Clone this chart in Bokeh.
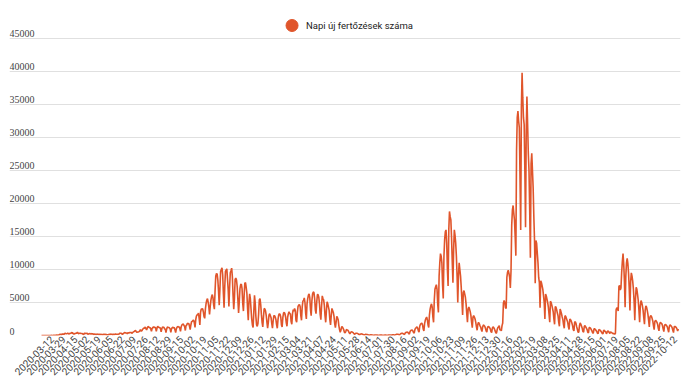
import math
from bokeh.plotting import figure
from bokeh.models import (ColumnDataSource, FixedTicker, Range1d, Legend,
                          LegendItem, LabelSet)
from bokeh.embed import file_html
from bokeh.resources import INLINE

series_name = "Napi új fertőzések száma"

tick_labels = [
    "2020-03-12", "2020-03-29", "2020-04-15", "2020-05-02", "2020-05-19",
    "2020-06-05", "2020-06-22", "2020-07-09", "2020-07-26", "2020-08-12",
    "2020-08-29", "2020-09-15", "2020-10-02", "2020-10-19", "2020-11-05",
    "2020-11-22", "2020-12-09", "2020-12-26", "2021-01-12", "2021-01-29",
    "2021-02-15", "2021-03-04", "2021-03-21", "2021-04-07", "2021-04-24",
    "2021-05-11", "2021-05-28", "2021-06-14", "2021-07-01", "2021-07-30",
    "2021-08-16", "2021-09-02", "2021-09-19", "2021-10-06", "2021-10-23",
    "2021-11-09", "2021-11-26", "2021-12-13", "2021-12-30", "2022-01-16",
    "2022-02-02", "2022-02-19", "2022-03-08", "2022-03-25", "2022-04-11",
    "2022-04-28", "2022-05-15", "2022-06-01", "2022-07-19", "2022-08-05",
    "2022-08-22", "2022-09-08", "2022-09-25", "2022-10-12",
]

y_ticks = [0, 5000, 10000, 15000, 20000, 25000, 30000, 35000, 40000, 45000]
y_tick_labels = ["0", "5000", "10000", "15000", "20000", "25000", "30000",
                 "35000", "40000", "45000"]

# 2020-02-26 .. 2021-07-01 (daily)
daily_cases_a = [
    1, 0, 2, 0, 0,
    0, 0, 0, 1, 4, 2, 6,
    2, 10, 19, 4, 11, 31, 8,
    32, 20, 29, 61, 33, 59, 66,
    143, 186, 144, 123, 263, 160, 269,
    163, 347, 308, 277, 303, 364, 260,
    222, 340, 315, 380, 450, 302, 350,
    189, 293, 305, 360, 358, 490, 328,
    268, 346, 334, 321, 309, 311, 178,
    143, 349, 345, 306, 317, 332, 190,
    230, 293, 261, 230, 310, 190, 274,
    190, 170, 224, 178, 154, 218, 190,
    191, 155, 166, 144, 166, 155, 146,
    129, 185, 147, 183, 126, 138, 110,
    115, 126, 194, 140, 207, 196, 183,
    108, 213, 130, 178, 220, 191, 194,
    196, 190, 214, 320, 350, 332, 280,
    160, 310, 325, 460, 420, 372, 375,
    280, 422, 385, 430, 430, 445, 456,
    318, 480, 555, 614, 698, 777, 566,
    474, 529, 542, 586, 673, 884, 698,
    681, 889, 1030, 1112, 1120, 1284, 1056,
    841, 1151, 1356, 1295, 1178, 1200, 1000,
    650, 1090, 1180, 1345, 1210, 1260, 1150,
    620, 1100, 1410, 1250, 1230, 1190, 1080,
    560, 1010, 1300, 1250, 1240, 1000, 960,
    450, 1000, 1300, 1250, 1220, 1150, 1000,
    490, 1000, 1180, 1240, 1130, 1220, 850,
    430, 990, 1250, 1380, 1300, 1290, 1100,
    620, 1330, 1590, 1710, 1720, 1530, 1330,
    760, 1500, 1580, 1870, 1770, 1840, 1410,
    890, 1590, 2080, 2150, 2290, 2300, 1910,
    1230, 2370, 2950, 3130, 3160, 3400, 2580,
    1600, 3520, 4000, 4030, 4070, 3600, 2880,
    2600, 4000, 4850, 5340, 5600, 5050, 4300,
    3200, 4400, 5370, 5890, 6200, 5700, 4600,
    4000, 6800, 9000, 9400, 9300, 8400, 6700,
    4600, 7000, 9700, 10000, 10250, 9200, 6400,
    4200, 7300, 9700, 9900, 10100, 8500, 6900,
    4400, 7200, 9500, 9800, 10200, 8900, 6100,
    4000, 5600, 8500, 8700, 8400, 7400, 5400,
    3400, 5100, 7100, 7700, 7800, 7100, 4900,
    3700, 6000, 7900, 8000, 7300, 6400, 4100,
    2300, 5000, 6300, 5600, 4000, 2500, 1600,
    1200, 3500, 6100, 5000, 2900, 1600, 1400,
    1800, 3300, 5400, 5600, 4700, 3200, 2000,
    1300, 2800, 4100, 4000, 3700, 3000, 2000,
    1100, 2000, 3100, 3300, 3000, 2700, 1800,
    1100, 2200, 3000, 3000, 2800, 2400, 1600,
    1100, 2400, 3100, 3300, 3200, 2800, 1600,
    1300, 2700, 3400, 3500, 3300, 2800, 1900,
    1400, 2800, 3300, 3600, 3300, 3300, 2100,
    1700, 3300, 3900, 3700, 4100, 3800, 2300,
    2000, 3500, 4400, 4600, 4700, 4400, 3000,
    2300, 4300, 5200, 5300, 5700, 5000, 3400,
    2500, 4800, 5600, 6100, 6300, 5700, 3900,
    3000, 5200, 6300, 6600, 6500, 5600, 3900,
    3300, 5000, 6200, 6200, 5800, 4800, 3200,
    2400, 4400, 6000, 5600, 5400, 4600, 3000,
    2000, 3700, 5100, 4800, 4300, 3800, 2400,
    1600, 3000, 4100, 3800, 3500, 2900, 1800,
    1200, 2000, 2900, 2700, 2400, 1500, 900,
    500, 800, 1300, 1300, 1100, 900, 500,
    400, 600, 900, 850, 800, 650, 400,
    250, 450, 550, 520, 480, 400, 250,
    180, 300, 350, 330, 300, 250, 150,
    100, 200, 250, 220, 210, 160, 100,
    60, 150, 170, 140, 130, 100, 70,
    30, 80, 100, 90, 80, 70, 40,
    25, 60, 75, 70, 60, 50, 30,
    20, 50, 60, 60,
]

# reporting gap, summer 2021
daily_cases_b = [55, 45, 25, 20, 50, 60, 55, 45, 40, 25, 65, 75, 80, 70, 60, 45]

# 2021-07-30 .. 2022-06-01 (daily)
daily_cases_c = [
    110, 95, 60,
    50, 130, 170, 180, 190, 170, 120,
    100, 250, 300, 320, 330, 280, 200,
    150, 380, 450, 500, 520, 450, 300,
    220, 600, 750, 800, 850, 700, 450,
    350, 900, 1100, 1200, 1300, 1100, 700,
    500, 1400, 1700, 1800, 1900, 1600, 1000,
    700, 1800, 2300, 2600, 2800, 2400, 1600,
    1200, 3100, 4000, 4500, 4800, 4300, 2800,
    2000, 5300, 7000, 7400, 7700, 7000, 4700,
    3500, 9000, 11000, 12400, 12000, 11000, 7700,
    5600, 12000, 14500, 15700, 16000, 14000, 10000,
    7500, 16000, 18800, 18000, 17500, 14800, 11200,
    8000, 13000, 16000, 15200, 14000, 12000, 9000,
    5000, 9000, 11000, 10000, 9000, 7300, 5300,
    3100, 6500, 6800, 6300, 5800, 4800, 3300,
    2000, 4000, 4300, 4000, 3600, 3000, 2000,
    1200, 2800, 3000, 2800, 2500, 2000, 1300,
    800, 1700, 2000, 1800, 1500, 1300, 900,
    600, 1300, 1600, 1500, 1400, 1100, 700,
    500, 1200, 1400, 1300, 1200, 1000, 600,
    450, 1100, 1300, 1200, 1000, 700, 400,
    350, 900, 1200, 1300, 1500, 800, 900,
    700, 1500, 1900, 4900, 5300, 5000, 4200,
    4100, 8800, 9600, 9900, 9400, 8800, 7200,
    9800, 16700, 19000, 19700, 18500, 17500, 15000,
    12100, 28000, 33000, 34000, 32500, 31500, 24000,
    16000, 34500, 39800, 36000, 33000, 32000, 25000,
    16400, 31000, 36200, 32000, 27600, 25000, 19000,
    11800, 26000, 27600, 25000, 22400, 18000, 14400,
    7900, 14400, 14000, 12500, 11000, 8800, 8000,
    4200, 8300, 8000, 7500, 7000, 6000, 5000,
    2500, 6300, 6000, 5500, 5000, 4300, 3200,
    2000, 5200, 5000, 4600, 4100, 3600, 2500,
    1700, 4400, 4300, 3900, 3400, 3000, 2000,
    1400, 4000, 3700, 3300, 2800, 2400, 1600,
    1100, 3000, 2900, 2600, 2300, 2000, 1300,
    900, 2500, 2400, 2200, 1900, 1500, 900,
    700, 2000, 2100, 1800, 1300, 900, 500,
    500, 1500, 1900, 1700, 1400, 1100, 600,
    500, 1400, 1500, 1300, 1100, 900, 500,
    400, 1200, 1200, 1100, 900, 700, 400,
    350, 1000, 1000, 900, 750, 600, 350,
    300, 900, 850, 800, 650, 500, 300,
    250, 800, 750,
]

# reporting gap, June-July 2022
daily_cases_d = [600, 550, 250, 500, 700, 600, 450, 300, 550, 450, 400, 350,
                 250, 300, 200, 350]

# 2022-07-19 .. end (daily)
daily_cases_e = [
    3900, 4200, 4100, 3700, 7400, 7600,
    6900, 7200, 9500, 11200, 12400, 10800, 8200,
    4300, 8900, 11000, 11700, 10900, 9400, 7000,
    3800, 8200, 9500, 9000, 8200, 7000, 5200,
    2300, 5500, 7300, 7000, 6200, 5300, 3800,
    2000, 4500, 5300, 5000, 4500, 3800, 2700,
    1700, 3800, 4500, 4300, 3800, 3200, 2300,
    1300, 2800, 3000, 2900, 2600, 2200, 1500,
    900, 2100, 2300, 2200, 2000, 1700, 1100,
    700, 1700, 2000, 1900, 1800, 1500, 1000,
    600, 1500, 1700, 1600, 1500, 1300, 900,
    500, 1400, 1600, 1500, 1400, 1200, 800,
    450, 1300, 1400, 1300, 1200, 1000, 700,
    1000,
]

values = daily_cases_a + daily_cases_b + daily_cases_c + daily_cases_d + daily_cases_e
idx = list(range(len(values)))

first_tick = 15
tick_step = 17
tick_pos = [float(first_tick + tick_step * k) for k in range(len(tick_labels))]

line_color = "#e0552b"
x_start, x_end = -46.3, 924.1
y_top = 49242

p = figure(frame_width=671, frame_height=325, output_backend="svg",
           toolbar_location=None,
           x_range=Range1d(x_start, x_end), y_range=Range1d(0, y_top),
           y_axis_location=None,
           min_border_left=9, min_border_right=8,
           min_border_top=10, min_border_bottom=0)
p.outline_line_color = None
p.background_fill_color = "white"
p.border_fill_color = "white"
p.xgrid.visible = False
p.ygrid.ticker = FixedTicker(ticks=y_ticks)
p.ygrid.grid_line_color = "#e0e0e0"
p.ygrid.grid_line_width = 1

ax = p.xaxis[0]
ax.ticker = FixedTicker(ticks=tick_pos, minor_ticks=[])
ax.major_label_overrides = {t: lab for t, lab in zip(tick_pos, tick_labels)}
ax.major_label_orientation = math.pi / 4
ax.axis_line_color = None
ax.major_tick_line_color = None
ax.minor_tick_line_color = None
ax.major_tick_out = 0
ax.major_tick_in = 0
ax.major_label_standoff = 2
ax.major_label_text_font = "Roboto"
ax.major_label_text_font_size = "10px"
ax.major_label_text_color = "#444444"

src = ColumnDataSource(dict(x=idx, y=values))
p.line("x", "y", source=src, line_color=line_color, line_width=1.6)

# renderer used only for the round legend marker
dot = p.scatter("x", "y", source=src, marker="circle", size=12,
                fill_color=line_color, line_color=line_color, visible=False)

ysrc = ColumnDataSource(dict(x=[x_start] * len(y_ticks), y=y_ticks, t=y_tick_labels))
ylabels = LabelSet(x="x", y="y", text="t", source=ysrc, text_align="left",
                   text_baseline="bottom", y_offset=1,
                   text_font="Roboto", text_font_size="10px", text_color="#444444")
p.add_layout(ylabels)

legend = Legend(items=[LegendItem(label=series_name, renderers=[dot], index=0)],
                orientation="horizontal", location="top_center",
                glyph_width=30, glyph_height=30, padding=0, margin=0,
                label_standoff=0, border_line_color=None,
                background_fill_alpha=0, inactive_fill_alpha=0,
                label_text_font="Roboto", label_text_font_size="9.5px",
                label_text_color="#222222")
p.add_layout(legend)

open("out.html", "w").write(file_html(p, INLINE))
